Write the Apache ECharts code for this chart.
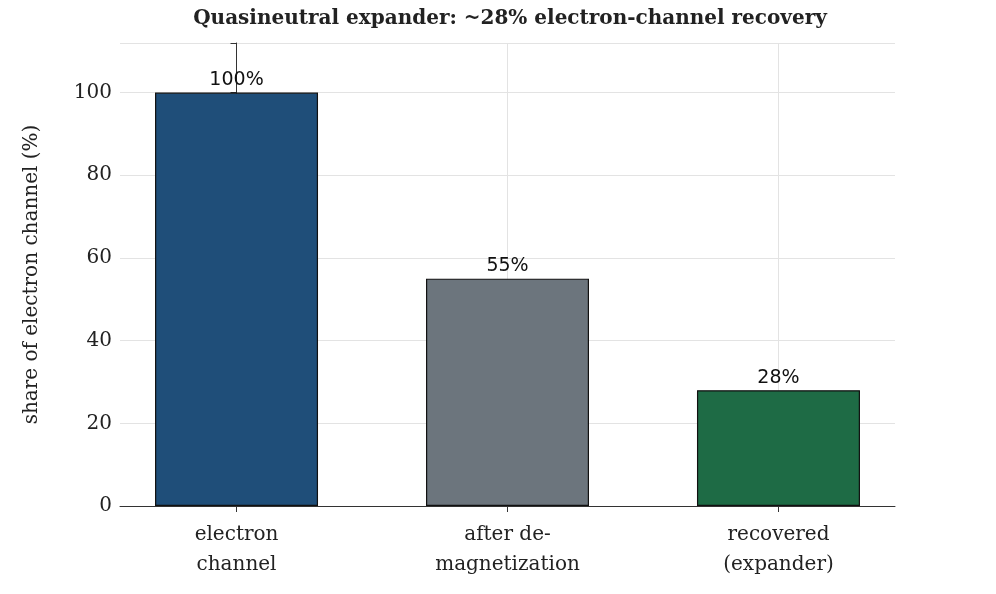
<!DOCTYPE html><html><head><meta charset="utf-8"><script src="https://cdn.jsdelivr.net/npm/echarts@6/dist/echarts.min.js"></script></head><body style="margin:0"><div id="c" style="width:996px;height:594px"></div><script>
const categories=["electron\nchannel","after de-\nmagnetization","recovered\n(expander)"];
const values=[100,55,28];
const colors=["#1f4e79","#6c757d","#1e6b45"];
const yTicks=[0,20,40,60,80,100];
const F="DejaVu Serif";
const ch=echarts.init(document.getElementById('c'));
ch.setOption({
title:{text:"Quasineutral expander: ~28% electron-channel recovery",left:505,textAlign:'center',top:4,textStyle:{fontFamily:F,fontWeight:'bold',fontSize:20,color:'#222'}},
grid:{left:120,right:101,top:43,bottom:88},
xAxis:{type:'value',min:-0.43,max:2.43,axisLine:{lineStyle:{color:'#333'}},splitLine:{show:false},
 axisTick:{customValues:[0,1,2],length:6,lineStyle:{color:'#333'}},
 axisLabel:{customValues:[0,1,2],formatter:v=>categories[Math.round(v)],fontFamily:F,fontSize:20,color:'#222',lineHeight:30,margin:14}},
yAxis:{type:'value',min:0,max:112,interval:20,name:'share of electron channel (%)',nameLocation:'middle',nameGap:78,nameTextStyle:{fontFamily:F,fontSize:20,color:'#222'},
 axisLine:{show:true,lineStyle:{color:'#333'}},axisTick:{show:true,length:6},
 axisLabel:{fontFamily:F,fontSize:20,color:'#222',formatter:v=>yTicks.includes(v)?v:''},splitLine:{lineStyle:{color:'#e3e3e3'}}},
series:[{type:'bar',barWidth:163,data:values.map((v,i)=>({value:[i,v],itemStyle:{color:colors[i]}})),
 itemStyle:{borderColor:'#111',borderWidth:1.2},
 label:{show:true,position:'top',formatter:p=>p.value[1]+'%',fontFamily:'DejaVu Sans',fontSize:19,color:'#111',distance:3},
 markLine:{silent:true,symbol:'none',label:{show:false},lineStyle:{color:'#e3e3e3',type:'solid',width:1},data:[{xAxis:0},{xAxis:1},{xAxis:2}],z:0},z:2}]
});
</script></body></html>
